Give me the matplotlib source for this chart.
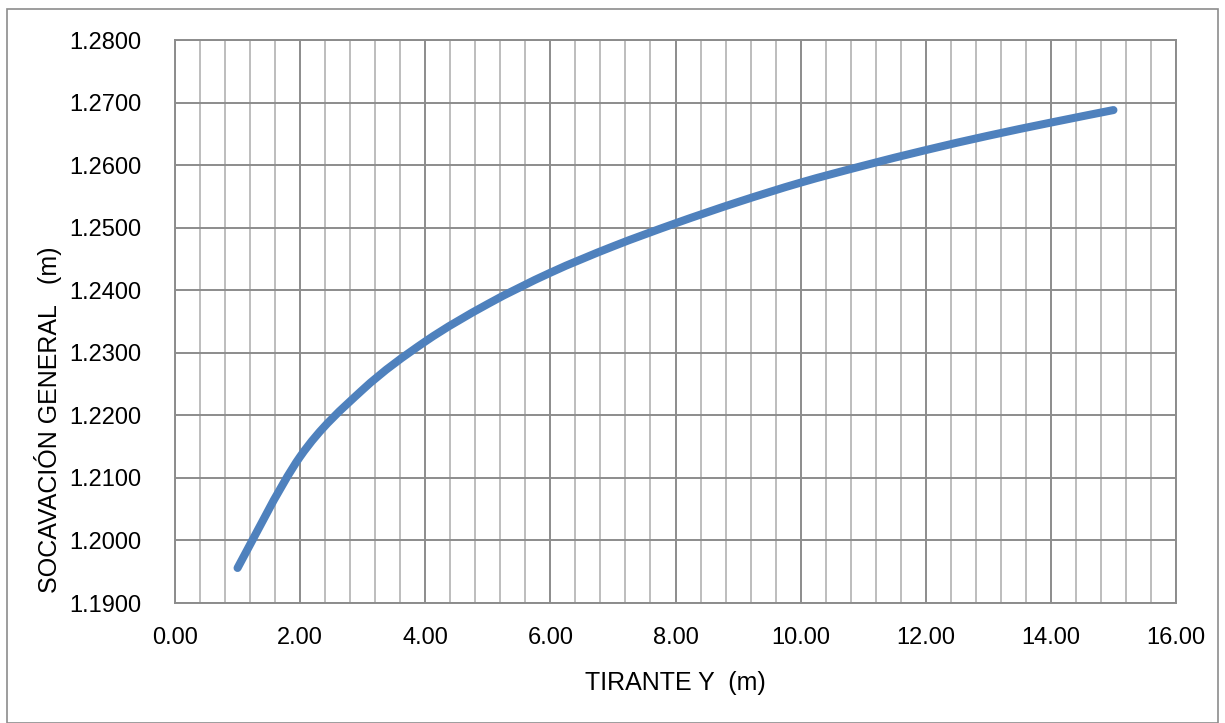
import matplotlib
matplotlib.use("Agg")
import matplotlib.pyplot as plt
from matplotlib.patches import Rectangle, PathPatch
from matplotlib.path import Path
from matplotlib.ticker import MultipleLocator, FormatStrFormatter

# Scour depth vs. flow depth
tirante = [1, 2, 3, 4, 5, 6, 7, 8, 9, 10, 11, 12, 13, 14, 15]
socavacion = [1.1956, 1.2134, 1.2241, 1.2318, 1.2378, 1.2428, 1.2470, 1.2507,
              1.2541, 1.2572, 1.2599, 1.2624, 1.2647, 1.2668, 1.2688]

plt.rcParams["font.family"] = ["Liberation Sans", "DejaVu Sans"]

fig = plt.figure(figsize=(12.25, 7.23), dpi=100)
ax = fig.add_axes([175 / 1225, 120 / 723, 1001 / 1225, 563 / 723])

# Smoothed line through the points (cubic Bezier segments, Catmull-Rom tangents)
n = len(tirante)
verts = [(tirante[0], socavacion[0])]
codes = [Path.MOVETO]
for i in range(n - 1):
    p0 = (tirante[max(i - 1, 0)], socavacion[max(i - 1, 0)])
    p1 = (tirante[i], socavacion[i])
    p2 = (tirante[i + 1], socavacion[i + 1])
    p3 = (tirante[min(i + 2, n - 1)], socavacion[min(i + 2, n - 1)])
    c1 = (p1[0] + (p2[0] - p0[0]) / 6, p1[1] + (p2[1] - p0[1]) / 6)
    c2 = (p2[0] - (p3[0] - p1[0]) / 6, p2[1] - (p3[1] - p1[1]) / 6)
    verts += [c1, c2, p2]
    codes += [Path.CURVE4] * 3
ax.add_patch(PathPatch(Path(verts, codes), fill=False, edgecolor="#4F81BD",
                       lw=5.8, capstyle="round", joinstyle="round", zorder=3))

ax.set_xlim(0, 16)
ax.set_ylim(1.19, 1.28)
ax.xaxis.set_major_locator(MultipleLocator(2))
ax.xaxis.set_minor_locator(MultipleLocator(0.4))
ax.yaxis.set_major_locator(MultipleLocator(0.01))
ax.xaxis.set_major_formatter(FormatStrFormatter("%.2f"))
ax.yaxis.set_major_formatter(FormatStrFormatter("%.4f"))

ax.grid(which="major", axis="both", color="#8c8c8c", lw=1.4)
ax.grid(which="minor", axis="x", color="#bdbdbd", lw=1.4)
ax.set_axisbelow(True)
for s in ax.spines.values():
    s.set_color("#8c8c8c")
    s.set_linewidth(1.4)
ax.tick_params(which="both", length=0, labelsize=17, colors="black")
ax.tick_params(axis="x", pad=17)
ax.tick_params(axis="y", pad=24)

ax.set_xlabel("TIRANTE Y  (m)", fontsize=18, labelpad=16)
fig.text(48 / 1225, 1 - 420 / 723, "SOCAVACIÓN GENERAL   (m)", rotation=90,
         fontsize=18, ha="center", va="center")

fig.patches.append(Rectangle((7 / 1225, 0), 1211 / 1225, 1 - 9 / 723,
                             transform=fig.transFigure, fill=False,
                             edgecolor="#8c8c8c", lw=1.2))

fig.savefig("out.png", dpi=100)
